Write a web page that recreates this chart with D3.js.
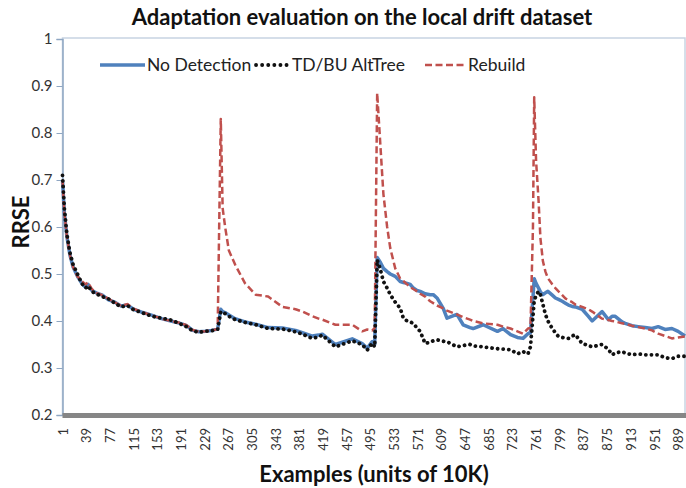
<!DOCTYPE html>
<html>
<head>
<meta charset="utf-8">
<script src="https://cdnjs.cloudflare.com/ajax/libs/d3/7.8.5/d3.min.js"></script>
<style>
    body { margin: 0; background: #fff; }
    text { font-family: Lato, "Open Sans", sans-serif; }
</style>
</head>
<body>
<script>

// examples (units of 10K) at which values were read
var examples = [1, 4, 8, 13, 18, 25, 32, 38, 42, 48, 55, 65, 75, 85, 95, 105, 115, 130, 145, 160,
    175, 190, 200, 210, 220, 230, 240, 250,
    255, 258, 262, 268, 278, 294, 311, 331, 354, 375, 386, 402, 412, 418, 439, 466, 482, 490, 498, 502,
    506, 511, 516, 522, 527, 535, 543, 548, 554, 559, 564, 570, 575, 583, 591, 596, 602, 612, 618, 634,
    644, 655, 660, 676, 699, 708, 720, 731, 740, 748, 752,
    756, 758, 761, 765, 768, 772, 776, 780, 787, 792, 797, 803, 808, 813, 819, 824, 835, 845, 851, 867,
    877, 883, 888, 899, 904, 915, 925, 936, 947, 957, 968, 979, 989, 1000];

var noDetection = [0.70, 0.63, 0.58, 0.54, 0.515, 0.495, 0.48, 0.472, 0.478, 0.465, 0.46, 0.455, 0.445, 0.44, 0.432, 0.434, 0.425, 0.418, 0.412, 0.405,
    0.40, 0.395, 0.39, 0.38, 0.377, 0.378, 0.38, 0.383,
    0.425, 0.42, 0.418, 0.413, 0.405, 0.398, 0.393, 0.386, 0.385, 0.38, 0.375, 0.368, 0.37, 0.372, 0.35, 0.362, 0.352, 0.342, 0.356, 0.35,
    0.535, 0.525, 0.512, 0.505, 0.5, 0.495, 0.484, 0.482, 0.48, 0.478, 0.47, 0.465, 0.463, 0.458, 0.456, 0.456, 0.449, 0.427, 0.406, 0.414,
    0.392, 0.386, 0.384, 0.392, 0.378, 0.384, 0.371, 0.365, 0.363, 0.373, 0.375,
    0.45, 0.49, 0.48, 0.47, 0.462, 0.456, 0.46, 0.463, 0.455, 0.449, 0.446, 0.442, 0.438, 0.434, 0.431, 0.43, 0.425, 0.41, 0.40, 0.42,
    0.403, 0.41, 0.41, 0.398, 0.395, 0.39, 0.388, 0.386, 0.384, 0.388, 0.382, 0.384, 0.378, 0.368];

var altTree = [0.71, 0.64, 0.585, 0.545, 0.52, 0.50, 0.48, 0.47, 0.475, 0.463, 0.458, 0.452, 0.447, 0.438, 0.43, 0.433, 0.424, 0.417, 0.41, 0.406,
    0.402, 0.394, 0.388, 0.379, 0.376, 0.378, 0.379, 0.382,
    0.42, 0.418, 0.416, 0.41, 0.403, 0.397, 0.392, 0.384, 0.383, 0.377, 0.372, 0.363, 0.366, 0.37, 0.345, 0.358, 0.35, 0.338, 0.353, 0.345,
    0.53, 0.51, 0.484, 0.47, 0.456, 0.44, 0.427, 0.406, 0.40, 0.398, 0.395, 0.385, 0.378, 0.352, 0.355, 0.358, 0.36, 0.357, 0.356, 0.345,
    0.348, 0.35, 0.347, 0.345, 0.341, 0.34, 0.339, 0.33, 0.335, 0.33, 0.345,
    0.41, 0.442, 0.455, 0.463, 0.456, 0.435, 0.414, 0.40, 0.384, 0.375, 0.367, 0.365, 0.364, 0.363, 0.368, 0.371, 0.352, 0.348, 0.345, 0.35,
    0.34, 0.328, 0.332, 0.335, 0.332, 0.328, 0.33, 0.328, 0.328, 0.328, 0.322, 0.32, 0.325, 0.325];

var rebuild = [0.70, 0.63, 0.58, 0.54, 0.515, 0.495, 0.485, 0.478, 0.482, 0.468, 0.46, 0.455, 0.447, 0.44, 0.432, 0.436, 0.426, 0.418, 0.412, 0.405,
    0.40, 0.396, 0.391, 0.381, 0.377, 0.378, 0.38, 0.383,
    0.83, 0.64, 0.60, 0.55, 0.52, 0.48, 0.456, 0.452, 0.43, 0.425, 0.42, 0.41, 0.405, 0.403, 0.392, 0.392, 0.378, 0.382, 0.38, 0.385,
    0.885, 0.777, 0.67, 0.60, 0.555, 0.512, 0.49, 0.485, 0.478, 0.472, 0.468, 0.463, 0.458, 0.452, 0.442, 0.438, 0.433, 0.427, 0.422, 0.414,
    0.408, 0.403, 0.40, 0.395, 0.392, 0.388, 0.384, 0.378, 0.373, 0.384, 0.385,
    0.60, 0.876, 0.741, 0.656, 0.576, 0.527, 0.505, 0.491, 0.478, 0.47, 0.463, 0.455, 0.448, 0.444, 0.44, 0.435, 0.43, 0.425, 0.42, 0.405,
    0.402, 0.40, 0.399, 0.395, 0.394, 0.39, 0.387, 0.384, 0.38, 0.373, 0.368, 0.363, 0.365, 0.367];

var yTicks = [0.2, 0.3, 0.4, 0.5, 0.6, 0.7, 0.8, 0.9, 1];
var xTicks = [1, 39, 77, 115, 153, 191, 229, 267, 305, 343, 381, 419, 457, 495, 533, 571, 609, 647,
    685, 723, 761, 799, 837, 875, 913, 951, 989];

var seriesNames = ["No Detection", "TD/BU AltTree", "Rebuild"];


var width = 686;
var height = 488;
var plotLeft = 62.5, plotRight = 685, plotTop = 39, plotBottom = 415;

var svg = d3.select("body").append("svg")
    .attr("width", width)
    .attr("height", height);

var x = d3.scaleLinear()
    .domain([1, 1000])
    .range([plotLeft, plotRight]);

var y = d3.scaleLinear()
    .domain([0.2, 1])
    .range([plotBottom, plotTop]);

// plot frame
svg.append("rect")
    .attr("x", plotLeft)
    .attr("y", plotTop - 1)
    .attr("width", plotRight - plotLeft)
    .attr("height", plotBottom - plotTop + 1)
    .attr("fill", "none")
    .attr("stroke", "#c8d4e2")
    .attr("stroke-width", 1.5);

// y axis
var yAxisGroup = svg.append("g")
    .attr("transform", "translate(" + plotLeft + ",0)");

var yAxis = d3.axisLeft(y)
    .tickValues(yTicks)
    .tickSize(6)
    .tickPadding(4)
    .tickFormat(d => String(d));

yAxis(yAxisGroup);
yAxisGroup.select(".domain").attr("stroke", "#8ea6c2").attr("stroke-width", 1.5);
yAxisGroup.selectAll(".tick line").attr("stroke", "#8ea6c2");
yAxisGroup.selectAll("text")
    .style("font-size", "15px")
    .attr("fill", "#333");

// x axis, Excel style thick grey base line
svg.append("rect")
    .attr("x", plotLeft)
    .attr("y", y(0.2) - 2)
    .attr("width", plotRight - plotLeft + 1)
    .attr("height", 5)
    .attr("fill", "#868686");

var xAxisGroup = svg.append("g")
    .attr("transform", "translate(0," + (plotBottom + 3) + ")");

var xAxis = d3.axisBottom(x)
    .tickValues(xTicks)
    .tickSize(0)
    .tickPadding(0)
    .tickFormat(d => String(d));

xAxis(xAxisGroup);
xAxisGroup.select(".domain").remove();
xAxisGroup.selectAll("text")
    .attr("transform", "rotate(-90)")
    .attr("x", -10)
    .attr("y", 0)
    .attr("dy", "0.35em")
    .attr("text-anchor", "end")
    .style("font-size", "13px")
    .attr("fill", "#333");

// lines
var data = examples.map((e, i) => ({ e: e, nd: noDetection[i], td: altTree[i], rb: rebuild[i] }));

function plotVariable(key, color, widthPx, dash, cap) {
    var line = d3.line()
        .x(d => x(d.e))
        .y(d => y(d[key]))
        .curve(d3.curveLinear);

    svg.append("path")
        .datum(data)
        .attr("fill", "none")
        .attr("stroke", color)
        .attr("stroke-width", widthPx)
        .attr("stroke-dasharray", dash)
        .attr("stroke-linecap", cap)
        .attr("stroke-linejoin", "round")
        .attr("d", line);
}

plotVariable("nd", "#4f81bd", 3.5, null, "butt");
plotVariable("rb", "#c0504d", 2.5, "7,3.5", "butt");
plotVariable("td", "#111", 3.8, "0.1,5.5", "round");

// legend
var legendY = 65;
var legend = [
    { name: seriesNames[0], x1: 100, x2: 145, color: "#4f81bd", w: 3.5, dash: null, cap: "butt" },
    { name: seriesNames[1], x1: 256, x2: 290, color: "#111", w: 3.8, dash: "0.1,6", cap: "round" },
    { name: seriesNames[2], x1: 425, x2: 466, color: "#c0504d", w: 2.5, dash: "7,3.5", cap: "butt" }
];

legend.forEach(function (l) {
    svg.append("line")
        .attr("x1", l.x1).attr("x2", l.x2)
        .attr("y1", legendY).attr("y2", legendY)
        .attr("stroke", l.color)
        .attr("stroke-width", l.w)
        .attr("stroke-dasharray", l.dash)
        .attr("stroke-linecap", l.cap);
    svg.append("text")
        .attr("x", l.x2 + 2)
        .attr("y", legendY)
        .attr("dy", "0.35em")
        .style("font-size", "17.5px")
        .attr("fill", "#222")
        .text(l.name);
});

// titles
svg.append("text")
    .attr("x", 362)
    .attr("y", 25)
    .attr("text-anchor", "middle")
    .style("font-size", "22px")
    .style("font-weight", "bold")
    .attr("fill", "#111")
    .text("Adaptation evaluation on the local drift dataset");

svg.append("text")
    .attr("x", 374)
    .attr("y", 482)
    .attr("text-anchor", "middle")
    .style("font-size", "22px")
    .style("font-weight", "bold")
    .attr("fill", "#111")
    .text("Examples (units of 10K)");

svg.append("text")
    .attr("transform", "translate(29," + 222 + ") rotate(-90)")
    .attr("text-anchor", "middle")
    .style("font-size", "22px")
    .style("font-weight", "bold")
    .attr("fill", "#111")
    .text("RRSE");

</script>
</body>
</html>
